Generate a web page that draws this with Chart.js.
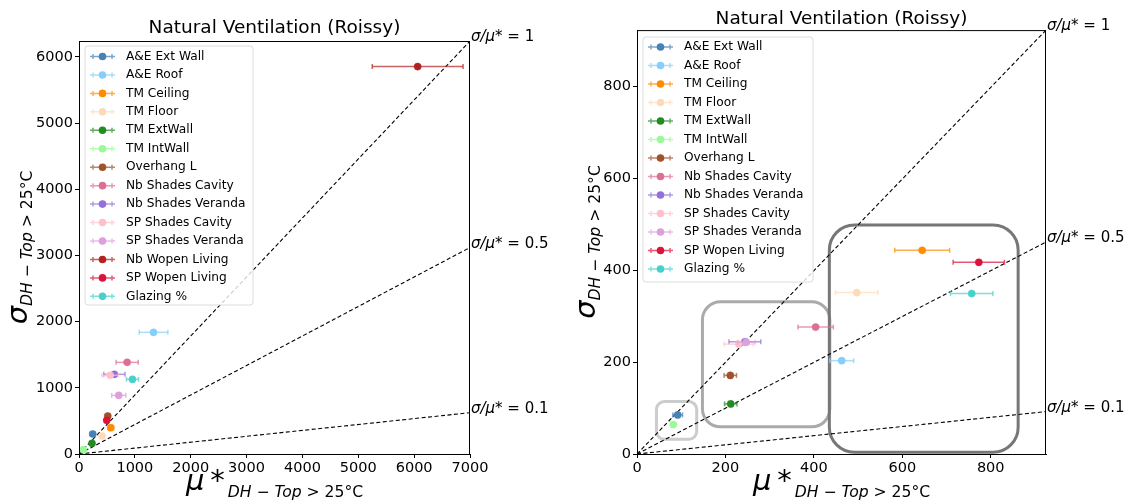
<!DOCTYPE html>
<html lang="en">
<head>
  <meta charset="UTF-8">
  <title>Natural Ventilation (Roissy)</title>
  <script src="https://cdn.jsdelivr.net/npm/chart.js"></script>
  <style>
    html, body { margin: 0; padding: 0; background: #fff; }
    .panel { position: absolute; top: 0; width: 565px; height: 502px; }
    #leftPanel { left: 0; }
    #rightPanel { left: 565px; }
  </style>
</head>
<body>
  <div class="panel" id="leftPanel"><canvas id="leftChart"></canvas></div>
  <div class="panel" id="rightPanel"><canvas id="rightChart"></canvas></div>

  <script>
    // ---- data ----
    const seriesNames = ['A&E Ext Wall', 'A&E Roof', 'TM Ceiling', 'TM Floor', 'TM ExtWall', 'TM IntWall',
      'Overhang L', 'Nb Shades Cavity', 'Nb Shades Veranda', 'SP Shades Cavity', 'SP Shades Veranda',
      'Nb Wopen Living', 'SP Wopen Living', 'Glazing %'];
    const seriesColors = ['#4682b4', '#87cefa', '#ff8c00', '#ffdab9', '#228b22', '#98fb98',
      '#a0522d', '#db7093', '#9370db', '#ffc0cb', '#dda0dd', '#b22222', '#dc143c', '#48d1cc'];

    // left panel: mu*, sigma, half width of the mu* error bar
    const leftMu    = [246, 1334, 569, 413, 233, 77, 515, 862, 634, 557, 711, 6063, 497, 957];
    const leftSigma = [302, 1838, 397, 272, 161, 65, 574, 1385, 1204, 1189, 886, 5853, 509, 1128];
    const leftErr   = [45, 257, 50, 40, 30, 10, 40, 198, 190, 150, 126, 813, 40, 108];

    // right panel (Nb Wopen Living not shown)
    const rightMu    = [92, 463, 645, 497, 212, 82, 211, 404, 244, 230, 247, null, 773, 757];
    const rightSigma = [85, 203, 443, 351, 109, 64, 171, 276, 244, 239, 243, null, 417, 349];
    const rightErr   = [11, 27, 62, 48, 14, 5, 14, 40, 36, 33, 20, null, 58, 48];

    const ratios = [1, 0.5, 0.1];

    const leftXTicks  = [0, 1000, 2000, 3000, 4000, 5000, 6000, 7000];
    const leftYTicks  = [0, 1000, 2000, 3000, 4000, 5000, 6000];
    const rightXTicks = [0, 200, 400, 600, 800];
    const rightYTicks = [0, 200, 400, 600, 800];

    // highlight boxes on the right panel: [muMin, muMax, sigmaMin, sigmaMax]
    const rightBoxes = [
      [44, 135, 32, 114],
      [148, 436, 59, 331],
      [435, 862, 4, 498]
    ];
    const boxColors = ['#cccccc', '#aaaaaa', '#777777'];
    const boxRadii = [8, 18, 25];

    const FONT = '"DejaVu Sans", sans-serif';

    function fade(hex, a) {
      const n = parseInt(hex.slice(1), 16);
      return 'rgba(' + (n >> 16) + ',' + ((n >> 8) & 255) + ',' + (n & 255) + ',' + a + ')';
    }

    function roundRectPath(ctx, x, y, w, h, r) {
      ctx.beginPath();
      ctx.moveTo(x + r, y);
      ctx.lineTo(x + w - r, y);
      ctx.arcTo(x + w, y, x + w, y + r, r);
      ctx.lineTo(x + w, y + h - r);
      ctx.arcTo(x + w, y + h, x + w - r, y + h, r);
      ctx.lineTo(x + r, y + h);
      ctx.arcTo(x, y + h, x, y + h - r, r);
      ctx.lineTo(x, y + r);
      ctx.arcTo(x, y, x + r, y, r);
      ctx.closePath();
    }

    // draw a row of text pieces centred on x (mixed sizes, subscripts)
    function drawPieces(ctx, pieces, x, y) {
      const fontOf = p => (p.italic ? 'italic ' : '') + p.size + 'px ' + FONT;
      let total = 0;
      pieces.forEach(p => { ctx.font = fontOf(p); p.w = ctx.measureText(p.t).width; total += p.w; });
      let cx = x - total / 2;
      ctx.textAlign = 'left';
      ctx.textBaseline = 'alphabetic';
      pieces.forEach(p => { ctx.font = fontOf(p); ctx.fillText(p.t, cx, y + (p.dy || 0)); cx += p.w; });
    }

    function subscript(dy) {
      return [
        { t: 'DH', size: 15.6, italic: true, dy: dy },
        { t: ' \u2212 ', size: 15.6, dy: dy },
        { t: 'Top', size: 15.6, italic: true, dy: dy },
        { t: ' > 25\u00b0C', size: 15.6, dy: dy }
      ];
    }

    function buildDatasets(mu, sigma, err, xMax, yMax) {
      const ds = [];
      const n = seriesNames.length;
      seriesNames.forEach((name, i) => {
        if (mu[i] == null) return;
        const col = seriesColors[i];
        ds.push({
          label: name + ' err',
          data: [{ x: mu[i] - err[i], y: sigma[i] }, { x: mu[i] + err[i], y: sigma[i] }],
          showLine: true,
          borderColor: fade(col, 0.7),
          borderWidth: 1.5,
          pointStyle: 'line',
          rotation: 90,
          pointRadius: 2.5,
          pointBorderWidth: 1.5,
          pointBorderColor: fade(col, 0.7),
          order: 2 * (n - i) + 1
        });
        ds.push({
          label: name,
          data: [{ x: mu[i], y: sigma[i] }],
          pointRadius: 3.6,
          pointBorderWidth: 0.5,
          backgroundColor: col,
          borderColor: col,
          order: 2 * (n - i)
        });
      });
      ratios.forEach(r => {
        ds.push({
          label: 'ratio ' + r,
          data: [{ x: 0, y: 0 }, { x: xMax, y: yMax * r }],
          showLine: true,
          borderColor: '#000',
          borderWidth: 1.1,
          borderDash: [4, 2.5],
          pointRadius: 0,
          order: 1000
        });
      });
      return ds;
    }

    function panelPlugin(cfg) {
      return {
        id: 'panelDeco',
        beforeDatasetsDraw(chart) {
          if (!cfg.boxes) return;
          const ctx = chart.ctx, xs = chart.scales.x, ys = chart.scales.y;
          ctx.save();
          cfg.boxes.forEach((b, k) => {
            const x0 = xs.getPixelForValue(b[0]), x1 = xs.getPixelForValue(b[1]);
            const y0 = ys.getPixelForValue(b[3]), y1 = ys.getPixelForValue(b[2]);
            roundRectPath(ctx, x0, y0, x1 - x0, y1 - y0, boxRadii[k]);
            ctx.strokeStyle = boxColors[k];
            ctx.lineWidth = 3;
            ctx.stroke();
          });
          ctx.restore();
        },
        afterDraw(chart) {
          const ctx = chart.ctx, a = chart.chartArea;
          const ys = chart.scales.y;
          ctx.save();

          // frame
          ctx.strokeStyle = '#000';
          ctx.lineWidth = 1;
          ctx.strokeRect(a.left + 0.5, a.top + 0.5, a.right - a.left - 1, a.bottom - a.top);

          // ratio labels
          ctx.fillStyle = '#000';
          ratios.forEach(r => {
            const py = ys.getPixelForValue(cfg.yMax * r);
            const px = a.right + 1;
            ctx.textAlign = 'left';
            ctx.textBaseline = 'alphabetic';
            ctx.font = 'italic 15px ' + FONT;
            const head = '\u03c3/\u03bc*';
            ctx.fillText(head, px, py);
            const w = ctx.measureText(head).width;
            ctx.font = '15px ' + FONT;
            ctx.fillText(' = ' + r, px + w, py);
          });

          // legend
          const L = cfg.legend;
          roundRectPath(ctx, L.x, L.y, L.w, L.h, 3);
          ctx.fillStyle = 'rgba(255,255,255,0.8)';
          ctx.fill();
          ctx.strokeStyle = '#dcdcdc';
          ctx.lineWidth = 1;
          ctx.stroke();
          let row = 0;
          seriesNames.forEach((name, i) => {
            if (cfg.mu[i] == null) return;
            const y = L.y + L.row0 + row * L.step;
            const col = seriesColors[i];
            ctx.strokeStyle = fade(col, 0.7);
            ctx.lineWidth = 1.5;
            ctx.beginPath();
            ctx.moveTo(L.x + 5, y); ctx.lineTo(L.x + 30, y);
            ctx.moveTo(L.x + 8, y - 2.5); ctx.lineTo(L.x + 8, y + 2.5);
            ctx.moveTo(L.x + 27, y - 2.5); ctx.lineTo(L.x + 27, y + 2.5);
            ctx.stroke();
            ctx.fillStyle = col;
            ctx.beginPath();
            ctx.arc(L.x + 17.5, y, 3.8, 0, Math.PI * 2);
            ctx.fill();
            ctx.fillStyle = '#000';
            ctx.font = '12.2px ' + FONT;
            ctx.textAlign = 'left';
            ctx.textBaseline = 'middle';
            ctx.fillText(name, L.x + 41, y);
            row++;
          });

          // axis titles
          ctx.fillStyle = '#000';
          const cxm = (a.left + a.right) / 2;
          drawPieces(ctx, [{ t: '\u03bc', size: 29, italic: true }, { t: '\u2009*', size: 29 }, { t: ' ', size: 10 }].concat(subscript(7)), cxm, 490);
          ctx.save();
          ctx.translate(cfg.sigmaX, (a.top + a.bottom) / 2);
          ctx.rotate(-Math.PI / 2);
          drawPieces(ctx, [{ t: '\u03c3', size: 29, italic: true }].concat(subscript(5)), 0, 0);
          ctx.restore();

          ctx.restore();
        }
      };
    }

    function makeChart(id, cfg) {
      const tickFont = { family: FONT, size: 14.5 };
      const axis = (min, max, ticks) => ({
        type: 'linear',
        min: min,
        max: max,
        afterBuildTicks: s => { s.ticks = ticks.map(v => ({ value: v })); },
        ticks: { color: '#000', font: tickFont, padding: 2, maxRotation: 0, callback: v => String(v) },
        grid: { drawOnChartArea: false, drawTicks: true, tickLength: 4, tickColor: '#000' },
        border: { display: true, color: '#000', width: 1 }
      });
      const xAxis = axis(0, cfg.xMax, cfg.xTicks);
      xAxis.afterFit = s => { s.height = 48; };
      const yAxis = axis(0, cfg.yMax, cfg.yTicks);
      yAxis.afterFit = s => { s.width = cfg.yAxisWidth; };

      return new Chart(document.getElementById(id), {
        type: 'scatter',
        data: { datasets: buildDatasets(cfg.mu, cfg.sigma, cfg.err, cfg.xMax, cfg.yMax) },
        options: {
          responsive: true,
          maintainAspectRatio: false,
          animation: false,
          layout: { padding: { left: 0, right: cfg.padRight, top: 0, bottom: 0 } },
          scales: { x: xAxis, y: yAxis },
          plugins: {
            legend: { display: false },
            tooltip: { enabled: false },
            title: {
              display: true,
              text: 'Natural Ventilation (Roissy)',
              color: '#000',
              fullSize: false,
              font: { family: FONT, size: 18.5, weight: 'normal' },
              padding: cfg.titlePad
            }
          }
        },
        plugins: [panelPlugin(cfg)]
      });
    }

    makeChart('leftChart', {
      mu: leftMu, sigma: leftSigma, err: leftErr,
      xMax: 7000, yMax: 6240, xTicks: leftXTicks, yTicks: leftYTicks,
      yAxisWidth: 79, padRight: 95,
      titlePad: { top: 16.9, bottom: 1.9 },
      legend: { x: 85, y: 46, w: 168, h: 259, row0: 10.5, step: 18.45 },
      sigmaX: 27
    });

    makeChart('rightChart', {
      mu: rightMu, sigma: rightSigma, err: rightErr,
      xMax: 925, yMax: 922, xTicks: rightXTicks, yTicks: rightYTicks,
      yAxisWidth: 72, padRight: 84,
      titlePad: { top: 7.9, bottom: 0 },
      legend: { x: 78, y: 37, w: 170, h: 245, row0: 10, step: 18.5 },
      boxes: rightBoxes,
      sigmaX: 30
    });
  </script>
</body>
</html>
